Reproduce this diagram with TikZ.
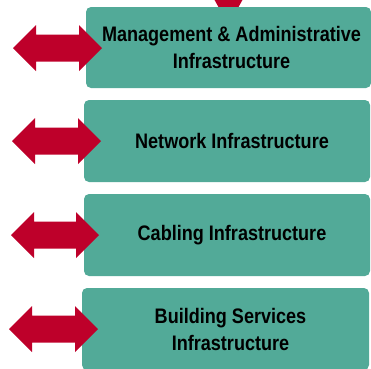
\documentclass[tikz,border=0pt]{standalone}
\usepackage{fontspec}
\setmainfont{Liberation Sans}[FakeStretch=0.86]
\definecolor{teal1}{RGB}{82,170,152}
\definecolor{red1}{RGB}{190,0,42}
\tikzset{
  infobox/.style={fill=teal1, rounded corners=5pt, inner sep=0pt},
  infotext/.style={inner sep=0pt, align=center,
    font=\fontsize{21}{27}\selectfont\bfseries, text=black},
  redarrow/.style={fill=red1, draw=none}
}
\newcommand{\dblarrow}[4]{% lx, rx, cy, name
  \path[redarrow] (#1,#3) -- (#1+23,#3-23) -- (#1+23,#3-13.5) -- (#2-23,#3-13.5)
    -- (#2-23,#3-23) -- (#2,#3) -- (#2-23,#3+23) -- (#2-23,#3+13.5)
    -- (#1+23,#3+13.5) -- (#1+23,#3+23) -- cycle;
  \coordinate (#4) at ({(#1+#2)/2},#3);
}
\begin{document}
\begin{tikzpicture}[x=1pt,y=-1pt]
\useasboundingbox (0,0) rectangle (371,368);
% top arrow head (partly hidden)
\path[redarrow] (209,-10) -- (248,-10) -- (228.5,25) -- cycle;
\node[infobox, minimum width=285pt, minimum height=81pt] (b1) at (228.5,47.5) {};
\node[infobox, minimum width=286pt, minimum height=82pt] (b2) at (227,141) {};
\node[infobox, minimum width=286pt, minimum height=82pt] (b3) at (227,235) {};
\node[infobox, minimum width=287pt, minimum height=82pt] (b4) at (225.5,329) {};
\node[infotext] (t1) at ([xshift=3pt]b1.center) {Management \& Administrative\\Infrastructure};
\node[infotext] (t2) at ([xshift=5pt]b2.center) {Network Infrastructure};
\node[infotext] (t3) at ([xshift=5pt]b3.center) {Cabling Infrastructure};
\node[infotext] (t4) at ([xshift=5pt]b4.center) {Building Services\\Infrastructure};
\dblarrow{13}{102}{48}{a1}
\dblarrow{12}{101}{141}{a2}
\dblarrow{11}{99}{235}{a3}
\dblarrow{9}{98}{329}{a4}
\end{tikzpicture}
\end{document}
